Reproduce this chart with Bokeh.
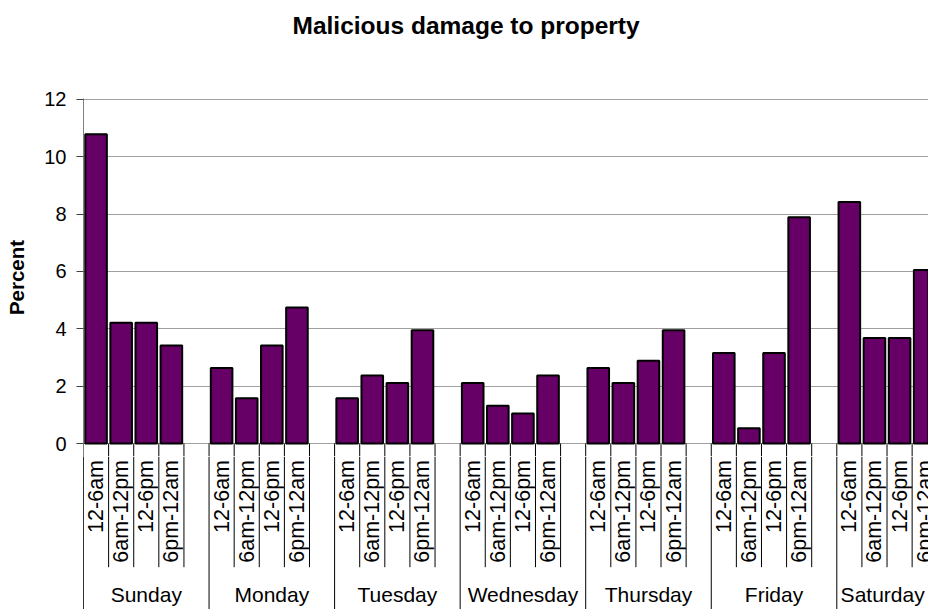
import math
from bokeh.plotting import figure
from bokeh.models import Range1d, FixedTicker, ColumnDataSource, Title
from bokeh.layouts import column
from bokeh.embed import file_html
from bokeh.resources import INLINE
from bokeh.core.properties import value

# ---- data ----
days = ["Sunday", "Monday", "Tuesday", "Wednesday", "Thursday", "Friday", "Saturday"]
periods = ["12-6am", "6am-12pm", "12-6pm", "6pm-12am"]
sunday = [10.79, 4.21, 4.21, 3.42]
monday = [2.63, 1.58, 3.42, 4.74]
tuesday = [1.58, 2.37, 2.11, 3.95]
wednesday = [2.11, 1.32, 1.05, 2.37]
thursday = [2.63, 2.11, 2.89, 3.95]
friday = [3.16, 0.53, 3.16, 7.89]
saturday = [8.42, 3.68, 3.68, 6.05]
y_ticks = [0, 2, 4, 6, 8, 10, 12]

series = [sunday, monday, tuesday, wednesday, thursday, friday, saturday]

# ---- layout constants ----
FONT = "Liberation Sans"
W = 928
TOP_BORDER = 98
ZERO_PX = 443           # pixel row of the value 0
TOP_H = 456             # main figure reaches 13px below the zero line
BOT_H = 609 - TOP_H
LEFT = 83
PX_PER_UNIT = 28.67
SLOTS = len(periods) + 1          # one blank slot after each day
SLOT_PX = 25.11
X_END = (W - LEFT) / SLOT_PX      # visible part of the category axis
Y_END = (ZERO_PX - TOP_BORDER) / PX_PER_UNIT
Y_START = -(TOP_H - ZERO_PX) / PX_PER_UNIT

xs, tops = [], []
for d, vals in enumerate(series):
    for k, v in enumerate(vals):
        xs.append(d * SLOTS + k + 0.5)
        tops.append(v)

x_range = Range1d(0, X_END)

# ---- main plot ----
p = figure(width=W, height=TOP_H, x_range=x_range, y_range=Range1d(Y_START, Y_END),
           output_backend="svg", toolbar_location=None, x_axis_location=None,
           min_border_left=LEFT, min_border_right=0, min_border_top=TOP_BORDER,
           min_border_bottom=0, title="Malicious damage to property")
p.outline_line_color = None
p.background_fill_color = "white"
p.border_fill_color = "white"

p.title.text_font = FONT
p.title.text_font_size = "24.5px"
p.title.text_font_style = "bold"
p.title.text_color = "black"
p.title.align = "left"
p.title.offset = 209
p.title.vertical_align = "top"
p.title.standoff = 18

# blank spacer between the title and the plot area
p.add_layout(Title(text=" ", text_font_size="1px", standoff=46), "above")

ax = p.yaxis[0]
ax.ticker = FixedTicker(ticks=y_ticks)
ax.minor_tick_line_color = None
ax.major_tick_in = 0
ax.major_tick_out = 7
ax.major_tick_line_color = "#404040"
ax.axis_line_color = "#808080"
ax.major_label_text_font = FONT
ax.major_label_text_font_size = "20px"
ax.major_label_text_color = "black"
ax.major_label_standoff = 10
ax.axis_label = "Percent"
ax.axis_label_text_font = FONT
ax.axis_label_text_font_size = "20.5px"
ax.axis_label_text_font_style = "bold"
ax.axis_label_text_color = "black"
ax.axis_label_standoff = 13

p.xgrid.visible = False
p.ygrid.ticker = FixedTicker(ticks=y_ticks)
p.ygrid.grid_line_color = "#a0a0a0"
p.ygrid.grid_line_width = 1

# separators between category labels (upper part, below the zero line)
sx = [d * SLOTS + k for d in range(len(days)) for k in range(SLOTS)]
p.segment(x0=sx, y0=[0] * len(sx), x1=sx, y1=[Y_START] * len(sx),
          line_color="black", line_width=1)

src = ColumnDataSource(dict(x=xs, top=tops))
p.vbar(x="x", top="top", bottom=0, width=0.86, source=src,
       fill_color="#660066", line_color="black", line_width=2)

# ---- category axis area ----
b = figure(width=W, height=BOT_H, x_range=x_range,
           y_range=Range1d(-(609 - ZERO_PX), -(TOP_H - ZERO_PX)),
           output_backend="svg", toolbar_location=None, x_axis_location=None,
           min_border_left=LEFT, min_border_right=0, min_border_top=0,
           min_border_bottom=0)
b.outline_line_color = None
b.grid.visible = False
bax = b.yaxis[0]
bax.ticker = FixedTicker(ticks=[])
bax.minor_tick_line_color = None
bax.major_tick_line_color = None
bax.major_label_text_font_size = "0px"
bax.axis_line_color = "#303030"

y_top = -(TOP_H - ZERO_PX)
y0s, y1s = [], []
for d in range(len(days)):
    for k in range(SLOTS):
        y0s.append(y_top)
        y1s.append(-(609 - ZERO_PX) if k == 0 else -123.7)
b.segment(x0=sx, y0=y0s, x1=sx, y1=y1s, line_color="black", line_width=1)

sub_x, sub_t = [], []
for d in range(len(days)):
    for k, per in enumerate(periods):
        sub_x.append(d * SLOTS + k + 0.5)
        sub_t.append(per)
b.text(x=sub_x, y=[-16.5] * len(sub_x), text=sub_t, angle=math.pi / 2,
       text_align="right", text_baseline="middle", text_font=value(FONT),
       text_font_size="21.5px", text_color="black")

day_x = []
for d in range(len(days)):
    lo = max(0, d * SLOTS)
    hi = min(X_END, (d + 1) * SLOTS)
    day_x.append((lo + hi) / 2)
b.text(x=day_x, y=[-151] * len(days), text=days, text_align="center",
       text_baseline="alphabetic", text_font=value(FONT),
       text_font_size="21px", text_color="black")

layout = column(p, b, spacing=0)
open("out.html", "w").write(file_html(layout, INLINE))
